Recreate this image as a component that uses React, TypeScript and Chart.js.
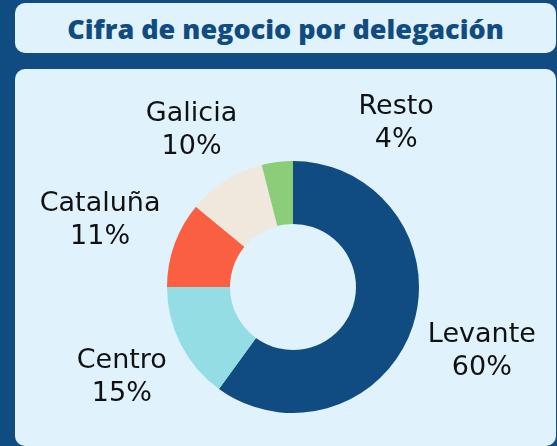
import React, { useEffect, useRef } from "react";
import { Chart, registerables } from "chart.js";

Chart.register(...registerables);

const categories = ["Levante", "Centro", "Cataluña", "Galicia", "Resto"];
const values = [60, 15, 11, 10, 4];
const sliceColors = ["#104C81", "#94DDE5", "#F95F40", "#F0E8DC", "#8BCD78"];
const labelAngleShift = [0, 0, 0, 0, 39];
const labelExtraOffset = [0, 0, 0, 0, 11];

const LABEL_FONT = "'DejaVu Sans', sans-serif";
const TITLE_FONT = "'Open Sans', sans-serif";

const outsideLabels = {
  id: "outsideLabels",
  afterDatasetsDraw(chart: any, _args: any, opts: any) {
    const ctx = chart.ctx;
    const meta = chart.getDatasetMeta(0);
    const data = chart.data.datasets[0].data as number[];
    const total = data.reduce((a, b) => a + b, 0);
    const lh = opts.lineHeight;
    ctx.save();
    ctx.font = `${opts.fontSize}px ${LABEL_FONT}`;
    ctx.fillStyle = opts.color;
    ctx.textAlign = "center";
    ctx.textBaseline = "middle";
    meta.data.forEach((arc: any, i: number) => {
      const p = arc.getProps(["x", "y", "startAngle", "endAngle", "outerRadius"], true);
      const mid = (p.startAngle + p.endAngle) / 2 + ((opts.shift[i] || 0) * Math.PI) / 180;
      const dx = Math.cos(mid);
      const dy = Math.sin(mid);
      const lines = [chart.data.labels[i], Math.round((data[i] / total) * 100) + "%"];
      const w = Math.max(...lines.map((t: string) => ctx.measureText(t).width));
      const h = lines.length * lh;
      const d =
        p.outerRadius + opts.offset + (opts.extra[i] || 0) + (Math.abs(dx) * w) / 2 + (Math.abs(dy) * h) / 2;
      const cx = p.x + dx * d;
      const cy = p.y + dy * d + opts.yShift;
      lines.forEach((t: string, k: number) => {
        ctx.fillText(t, cx, cy + (k - (lines.length - 1) / 2) * lh);
      });
    });
    ctx.restore();
  },
};

export default function App() {
  const ref = useRef<HTMLCanvasElement>(null);
  useEffect(() => {
    if (!ref.current) return;
    const chart = new Chart(ref.current, {
      type: "doughnut",
      data: {
        labels: categories,
        datasets: [
          {
            data: values,
            backgroundColor: sliceColors,
            borderWidth: 0,
            hoverOffset: 0,
          },
        ],
      },
      options: {
        animation: false,
        responsive: false,
        devicePixelRatio: 1,
        cutout: "50%",
        layout: { padding: { left: 152, right: 137, top: 92, bottom: 33 } },
        plugins: {
          legend: { display: false },
          tooltip: { enabled: false },
          outsideLabels: {
            fontSize: 27,
            lineHeight: 33,
            offset: 11,
            yShift: 3,
            color: "#111111",
            shift: labelAngleShift,
            extra: labelExtraOffset,
          },
        } as any,
      },
      plugins: [outsideLabels],
    });
    return () => chart.destroy();
  }, []);

  return (
    <div style={{ position: "fixed", inset: 0, background: "#104C81", overflow: "hidden" }}>
      <div
        style={{
          position: "absolute",
          left: 15,
          top: 3,
          width: 541,
          height: 50,
          background: "#E0F2FC",
          borderRadius: 10,
          display: "flex",
          alignItems: "center",
          justifyContent: "center",
          fontFamily: TITLE_FONT,
          fontWeight: 800,
          fontSize: 27,
          color: "#104C81",
        }}
      >
        Cifra de negocio por delegación
      </div>
      <div
        style={{
          position: "absolute",
          left: 15,
          top: 69,
          width: 541,
          height: 377,
          background: "#E0F2FC",
          borderRadius: 10,
        }}
      >
        <canvas ref={ref} width={541} height={377} style={{ display: "block" }} />
      </div>
    </div>
  );
}
